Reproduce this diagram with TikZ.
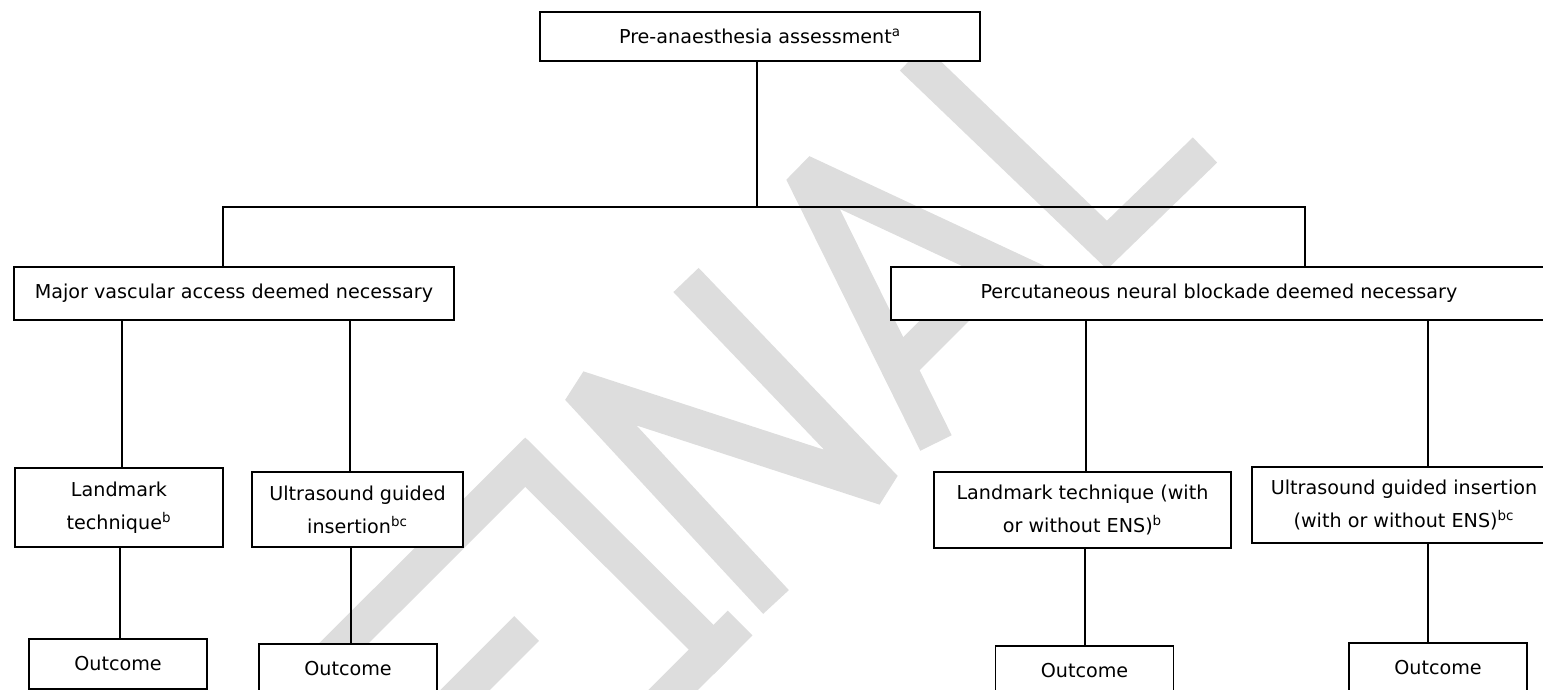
\documentclass[tikz,border=0pt]{standalone}
\usepackage{fontspec}
\setmainfont{DejaVu Sans}
\definecolor{wmgray}{RGB}{221,221,221}
\newcommand{\boxfont}{\fontsize{10.9}{18.7}\selectfont}

\begin{document}
\begin{tikzpicture}[x=0.2mm, y=-0.2mm,
		box/.style={draw, line width=0.8pt, fill=white, inner sep=0pt, align=center, font=\boxfont},
		link/.style={line width=1pt},
		wm/.style={wmgray, line width=7mm, line join=bevel}]
		\useasboundingbox (0, 0) rectangle (1543, 690);
		\clip (0, 0) rectangle (1543, 690);
		
		\draw[wm] (537.5, 450) -- (237, 750);
		\draw[wm] (526.5, 628.5) -- (400, 755);
		\draw[wm] (515, 452) -- (726, 662);
		\draw[wm] (653, 710) -- (740, 623);
		\draw[wm] (776, 602) -- (578, 388) -- (885, 488) -- (686, 280);
		\draw[wm] (936, 443) -- (802, 172) -- (1074, 299);
		\draw[wm] (898, 367) -- (1000, 265);
		\draw[wm, line join=miter] (912, 58) -- (1107, 245) -- (1205, 150);
		
		\node[box, minimum width=88mm, minimum height=9.8mm] (pre) at (760, 36.5) {Pre-anaesthesia assessment\textsuperscript{a}};
		\node[box, minimum width=88mm, minimum height=10.6mm] (major) at (234, 293.5) {Major vascular access deemed necessary};
		\node[box, minimum width=131.2mm, minimum height=10.6mm] (percut) at (1219, 293.5) {Percutaneous neural blockade deemed necessary};
		
		\node[box, minimum width=41.6mm, minimum height=15.8mm] (land1) at (119, 507.5) {Landmark\\technique\textsuperscript{b}};
		\node[box, minimum width=42.2mm, minimum height=15mm] (us1) at (357.5, 509.5) {Ultrasound guided\\insertion\textsuperscript{bc}};
		\node[box, minimum width=59.4mm, minimum height=15.2mm] (land2) at (1082.5, 510) {Landmark technique (with\\or without ENS)\textsuperscript{b}};
		\node[box, minimum width=60.8mm, minimum height=15.2mm] (us2) at (1404, 505) {Ultrasound guided insertion\\(with or without ENS)\textsuperscript{bc}};
		
		\node[box, minimum width=35.6mm, minimum height=10mm] (out1) at (118, 664) {Outcome};
		\node[box, minimum width=35.6mm, minimum height=10mm] (out2) at (348, 669) {Outcome};
		\node[box, minimum width=35.6mm, minimum height=10mm] (out3) at (1084.5, 671) {Outcome};
		\node[box, minimum width=35.6mm, minimum height=10mm] (out4) at (1438, 668) {Outcome};
		
		\coordinate (split) at (757, 207);
		\coordinate (hl) at (223, 207);
		\coordinate (hr) at (1305, 207);
		\draw[link] (pre.south -| split) -- (split);
		\draw[link] (major.north -| hl) -- (hl) -- (hr) -- (percut.north -| hr);
		
		\foreach \a/\b/\x in {major/land1/122, major/us1/350, land1/out1/120, us1/out2/351,
				percut/land2/1086, percut/us2/1428, land2/out3/1085, us2/out4/1428}
			\draw[link] (\a.south -| \x,0) -- (\b.north -| \x,0);
\end{tikzpicture}
\end{document}
